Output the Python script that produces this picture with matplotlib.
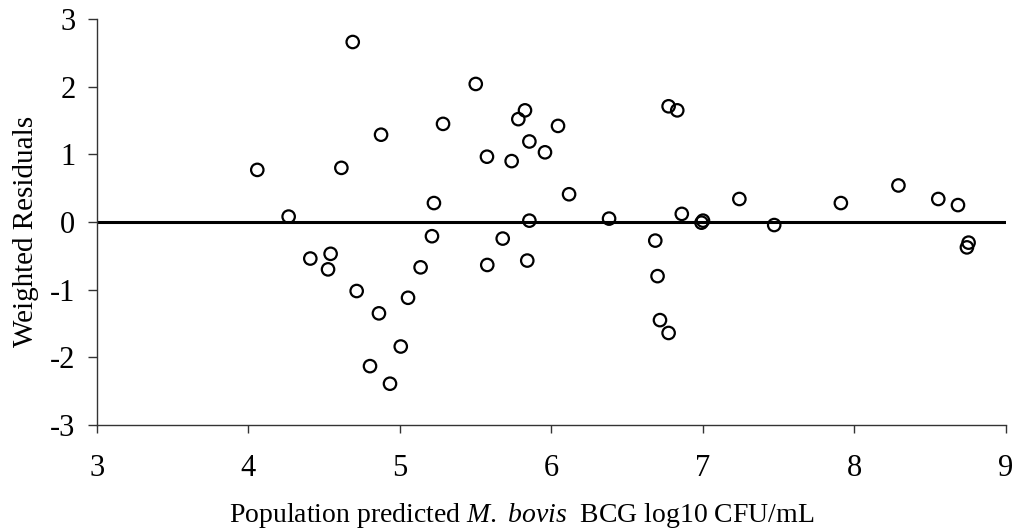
import matplotlib
matplotlib.use("Agg")
import matplotlib.pyplot as plt

plt.rcParams["font.family"] = ["Liberation Serif", "DejaVu Serif"]
plt.rcParams["mathtext.fontset"] = "custom"
plt.rcParams["mathtext.rm"] = "Liberation Serif"
plt.rcParams["mathtext.it"] = "Liberation Serif:italic"
plt.rcParams["axes.unicode_minus"] = False

# predicted log10 CFU/mL vs weighted residuals
predicted = [
    4.058, 4.265, 4.408, 4.525, 4.542, 4.613, 4.688, 4.714, 4.802, 4.861,
    4.875, 4.934, 5.005, 5.053, 5.136, 5.211, 5.224, 5.284, 5.500, 5.574,
    5.576, 5.678, 5.737, 5.781, 5.825, 5.840, 5.854, 5.854, 5.957, 6.043,
    6.116, 6.380, 6.685, 6.700, 6.716, 6.773, 6.773, 6.830, 6.860, 7.000,
    6.990, 7.240, 7.470, 7.910, 8.290, 8.553, 8.683, 8.742, 8.753
]
residuals = [
    0.77, 0.08, -0.54, -0.70, -0.47, 0.80, 2.66, -1.02, -2.13, -1.35,
    1.29, -2.39, -1.84, -1.12, -0.67, -0.21, 0.28, 1.45, 2.04, 0.965,
    -0.635, -0.245, 0.90, 1.52, 1.65, -0.57, 1.19, 0.02, 1.03, 1.42,
    0.41, 0.05, -0.275, -0.80, -1.45, -1.64, 1.71, 1.65, 0.12, 0.02,
    -0.01, 0.34, -0.045, 0.28, 0.54, 0.34, 0.25, -0.375, -0.305
]
x_ticks = [3, 4, 5, 6, 7, 8, 9]
y_ticks = [-3, -2, -1, 0, 1, 2, 3]

fig = plt.figure(figsize=(10.18, 5.29), dpi=100)
ax = fig.add_axes([97 / 1018, 1 - 425 / 529, 909 / 1018, 406 / 529])

ax.plot([x_ticks[0], x_ticks[-1]], [0, 0], color="black", linewidth=2.2, zorder=1)

ax.scatter(
    predicted,
    residuals,
    s=80,
    facecolors="none",
    edgecolors="black",
    linewidths=1.6,
    zorder=2,
    clip_on=False
)

ax.set_xlim(3, 9)
ax.set_ylim(-3, 3)
ax.set_xticks(x_ticks)
ax.set_yticks(y_ticks)

ax.spines["top"].set_visible(False)
ax.spines["right"].set_visible(False)
for side in ["left", "bottom"]:
    ax.spines[side].set_color("#333333")
    ax.spines[side].set_linewidth(1.0)

ax.tick_params(axis="x", direction="out", length=6, width=1, color="#333333",
               labelsize=22, pad=15)
ax.tick_params(axis="y", direction="out", length=6.5, width=1, color="#333333",
               labelsize=22, pad=9)

ax.text(
    -0.078, 0.4766,
    "Weighted Residuals",
    transform=ax.transAxes,
    rotation=90,
    ha="center",
    va="center",
    fontsize=21
)
ax.text(
    0.4675, -0.222,
    r"Population predicted $M.$ $bovis$  BCG log10 CFU/mL",
    transform=ax.transAxes,
    ha="center",
    va="center",
    fontsize=20
)

plt.savefig("out.png", dpi=100)
plt.close()
